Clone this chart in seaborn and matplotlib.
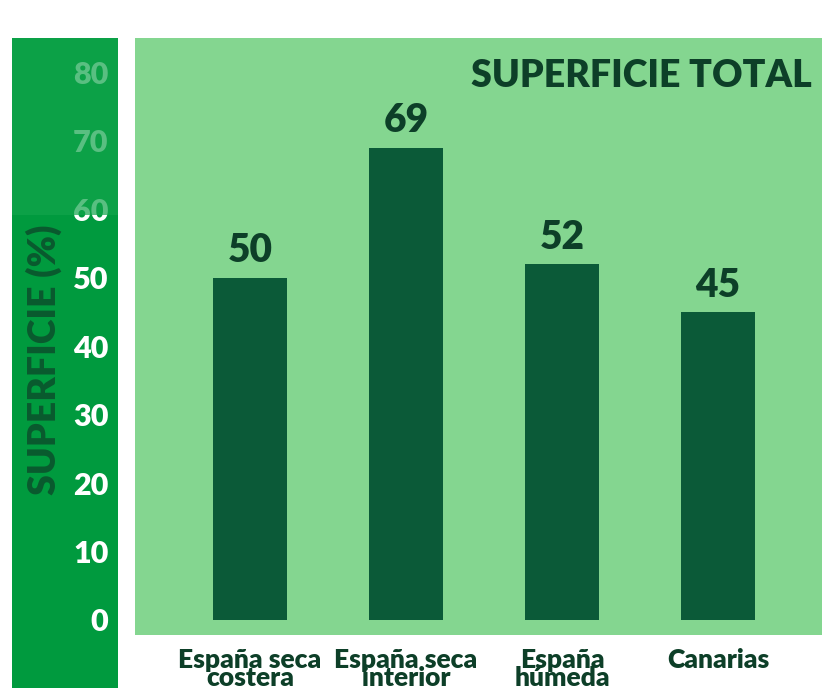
import matplotlib
matplotlib.use("Agg")
import matplotlib.pyplot as plt
import seaborn as sns
from matplotlib.patches import Rectangle

# Data
categories = ["España seca\ncostera", "España seca\ninterior", "España\nhúmeda", "Canarias"]
values = [50, 69, 52, 45]
yticks = [0, 10, 20, 30, 40, 50, 60, 70, 80]
title = "SUPERFICIE TOTAL"
ylabel = "SUPERFICIE (%)"

sns.set_style("white")
plt.rcParams["font.family"] = ["Lato", "DejaVu Sans"]

dark = "#0d3f28"
bar_color = "#0b5a38"
bg_color = "#84d690"
strip_color = "#009a3e"

W, H = 822, 691
fig = plt.figure(figsize=(W / 100, H / 100), dpi=100)

# green strip holding the y axis
fig.add_artist(Rectangle((12 / W, 3 / H), 106 / W, 650 / H, transform=fig.transFigure,
                         facecolor=strip_color, edgecolor="none", zorder=0))

ax = fig.add_axes([135 / W, 56 / H, 687 / W, 597 / H])
ax.set_facecolor(bg_color)
sns.barplot(x=categories, y=values, color=bar_color, width=0.47, ax=ax,
            saturation=1, edgecolor="none")

ax.set_xlim(-0.737, 3.667)
ax.set_ylim(-2.2, 85)
ax.set_yticks(yticks)
ax.set_yticklabels([str(t) for t in yticks])
for s in ax.spines.values():
    s.set_visible(False)

ax.tick_params(axis="y", length=0, pad=19, labelsize=22, labelcolor="white")
ax.tick_params(axis="x", length=0, pad=9, labelsize=19, labelcolor=dark)
for lab in ax.get_yticklabels():
    lab.set_fontweight("heavy")
for lab in ax.get_xticklabels():
    lab.set_fontweight("heavy")
    lab.set_linespacing(0.75)

ax.bar_label(ax.containers[0], padding=6, fontsize=28, fontweight="heavy", color=dark)

ax.text(0.985, 0.937, title, transform=ax.transAxes, ha="right", va="center",
        fontsize=27, fontweight="heavy", color=dark)

ax.set_xlabel("")
ax.set_ylabel("")
fig.text(44 / W, 1 - 360 / H, ylabel, rotation=90, ha="center", va="center",
         fontsize=27, fontweight="heavy", color="#0a5a2e", zorder=1)

# faded upper part of the strip, laid over the label and the top ticks
fig.add_artist(Rectangle((12 / W, 476 / H), 106 / W, 177 / H, transform=fig.transFigure,
                         facecolor="#12a44c", edgecolor="none", alpha=0.7, zorder=5))

fig.savefig("out.png", dpi=100)
